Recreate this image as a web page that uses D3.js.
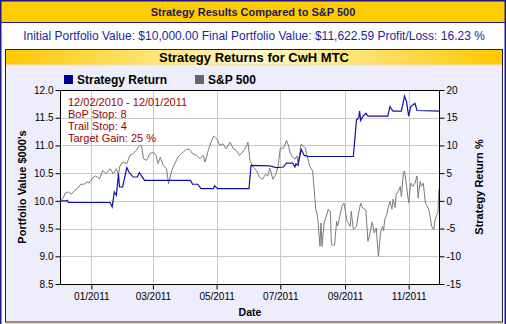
<!DOCTYPE html>
<html><head><meta charset="utf-8">
<script src="https://cdn.jsdelivr.net/npm/d3@7/dist/d3.min.js"></script>
<style>
body{margin:0;background:#fff;}
svg{display:block;font-family:"Liberation Sans",Arial,Helvetica,sans-serif;}
</style>
</head><body>
<svg id="c" width="506" height="324"></svg>
<script>
// ---------- data ----------
const headerTitle = "Strategy Results Compared to S&P 500";
const summaryText = "Initial Portfolio Value: $10,000.00 Final Portfolio Value: $11,622.59 Profit/Loss: 16.23 %";
const chartTitle = "Strategy Returns for CwH MTC";
const seriesNames = ["Strategy Return", "S&P 500"];
const notes = ["12/02/2010 - 12/01/2011", "BoP Stop: 8", "Trail Stop: 4", "Target Gain: 25 %"];
const xLabel = "Date";
const leftLabel = "Portfolio Value $000's";
const rightLabel = "Strategy Return %";
const xDomain = ["2010-12-02", "2011-12-01"];
const leftTicks = [8.5, 9.0, 9.5, 10.0, 10.5, 11.0, 11.5, 12.0];
const rightTicks = [-15, -10, -5, 0, 5, 10, 15, 20];

const strategyDates = ["2010-12-02","2010-12-08","2010-12-09","2010-12-10","2011-01-19","2011-01-21","2011-01-23","2011-01-25","2011-01-27","2011-01-28","2011-01-31","2011-02-04","2011-02-06","2011-02-10","2011-02-14","2011-02-16","2011-02-21","2011-04-06","2011-04-08","2011-04-13","2011-04-16","2011-04-28","2011-04-29","2011-05-02","2011-06-01","2011-06-03","2011-06-21","2011-06-27","2011-07-04","2011-07-07","2011-07-13","2011-07-15","2011-07-16","2011-07-18","2011-07-21","2011-07-24","2011-07-28","2011-09-09","2011-09-12","2011-09-14","2011-09-15","2011-09-16","2011-09-18","2011-09-21","2011-09-23","2011-10-12","2011-10-14","2011-10-17","2011-10-25","2011-10-28","2011-10-30","2011-11-01","2011-11-03","2011-11-05","2011-11-07","2011-11-09","2011-12-01"];
const strategyValues = [10.00,10.00,10.01,9.97,9.97,9.89,10.16,10.10,10.49,10.25,10.25,10.60,10.52,10.43,10.43,10.51,10.37,10.37,10.30,10.30,10.22,10.22,10.27,10.22,10.22,10.64,10.63,10.60,10.61,10.68,10.68,10.61,10.67,10.64,10.93,10.82,10.80,10.80,11.46,11.49,11.62,11.45,11.52,11.58,11.53,11.53,11.70,11.62,11.62,11.89,11.79,11.53,11.70,11.73,11.76,11.63,11.62];

const spDates = ["2010-12-02","2010-12-05","2010-12-07","2010-12-10","2010-12-13","2010-12-16","2010-12-19","2010-12-22","2010-12-25","2010-12-28","2010-12-30","2011-01-02","2011-01-05","2011-01-09","2011-01-12","2011-01-15","2011-01-19","2011-01-22","2011-01-25","2011-01-27","2011-01-28","2011-01-31","2011-02-04","2011-02-07","2011-02-10","2011-02-13","2011-02-16","2011-02-18","2011-02-20","2011-02-23","2011-02-26","2011-03-01","2011-03-04","2011-03-06","2011-03-08","2011-03-11","2011-03-14","2011-03-16","2011-03-19","2011-03-22","2011-03-25","2011-03-30","2011-04-02","2011-04-05","2011-04-08","2011-04-12","2011-04-15","2011-04-18","2011-04-20","2011-04-23","2011-04-24","2011-04-28","2011-04-30","2011-05-02","2011-05-04","2011-05-07","2011-05-10","2011-05-14","2011-05-17","2011-05-20","2011-05-23","2011-05-26","2011-05-30","2011-05-31","2011-06-02","2011-06-05","2011-06-08","2011-06-11","2011-06-14","2011-06-17","2011-06-19","2011-06-21","2011-06-24","2011-06-26","2011-06-27","2011-06-29","2011-07-01","2011-07-04","2011-07-05","2011-07-07","2011-07-09","2011-07-10","2011-07-12","2011-07-13","2011-07-15","2011-07-17","2011-07-18","2011-07-20","2011-07-21","2011-07-23","2011-07-25","2011-07-26","2011-07-28","2011-07-29","2011-08-01","2011-08-02","2011-08-03","2011-08-04","2011-08-05","2011-08-06","2011-08-08","2011-08-09","2011-08-10","2011-08-12","2011-08-14","2011-08-16","2011-08-18","2011-08-19","2011-08-21","2011-08-22","2011-08-24","2011-08-25","2011-08-27","2011-08-29","2011-08-31","2011-09-03","2011-09-04","2011-09-06","2011-09-07","2011-09-09","2011-09-10","2011-09-12","2011-09-14","2011-09-16","2011-09-18","2011-09-21","2011-09-23","2011-09-25","2011-09-27","2011-09-29","2011-10-01","2011-10-02","2011-10-03","2011-10-05","2011-10-07","2011-10-08","2011-10-09","2011-10-11","2011-10-12","2011-10-14","2011-10-16","2011-10-17","2011-10-19","2011-10-20","2011-10-22","2011-10-24","2011-10-25","2011-10-27","2011-10-28","2011-10-30","2011-11-01","2011-11-03","2011-11-05","2011-11-07","2011-11-09","2011-11-10","2011-11-12","2011-11-13","2011-11-15","2011-11-17","2011-11-18","2011-11-20","2011-11-21","2011-11-23","2011-11-25","2011-11-26","2011-11-28","2011-11-29","2011-11-30"];
const spValues = [0,0.5,1.4,1.6,1.2,1.9,2.3,3.0,3.0,3.4,3.2,4.1,4.5,4.0,5.5,4.9,5.8,4.9,5.8,4.6,6.1,7.0,6.7,8.2,8.5,9.1,10.0,10.0,7.6,7.3,8.5,8.8,8.2,6.7,7.9,6.4,5.8,3.1,5.5,6.7,7.9,8.8,9.3,9.3,8.5,8.2,7.6,8.2,7.0,9.1,9.7,11.7,11.4,11.0,10.0,10.3,9.4,10.6,9.4,9.1,8.2,8.8,10.0,10.6,7.3,6.1,5.5,4.3,3.9,4.8,4.5,5.9,3.9,4.5,5.0,6.3,9.5,9.5,9.9,10.9,9.9,9.0,8.1,7.9,7.5,8.1,6.8,9.0,10.2,9.9,9.5,8.6,7.2,6.3,5.4,3.2,0.8,-1.5,-2.2,-3.4,-8.2,-4.0,-8.2,-4.0,-2.8,-1.5,-2.0,-7.9,-8.0,-8.0,-3.7,-4.5,-2.8,-1.0,-0.4,-3.7,-4.0,-4.6,-1.9,-5.2,-5.0,-4.6,-2.2,-0.4,-1.3,-1.7,-7.3,-5.8,-3.8,-5.8,-4.9,-7.6,-10.0,-5.8,-4.6,-5.4,-3.4,-2.5,-1.5,-0.1,-1.5,0.3,-1.2,1.2,1.7,2.6,0.8,5.0,5.4,2.6,-0.4,3.2,2.6,3.2,4.5,0.5,3.5,2.6,3.2,-0.4,-0.7,-1.5,-2.2,-4.6,-5.2,-3.7,-2.5,-2.2,2.1];

// ---------- drawing ----------
const svg = d3.select("#c");
const parse = d3.utcParse("%Y-%m-%d");
const P = {l: 60, r: 440, t: 90, b: 284};

const defs = svg.append("defs");
const g1 = defs.append("linearGradient").attr("id", "hdr").attr("x1", "0").attr("x2", "1").attr("y1", "0").attr("y2", "0");
g1.append("stop").attr("offset", "0").attr("stop-color", "#FFC800");
g1.append("stop").attr("offset", "0.5").attr("stop-color", "#FFF7C8");
g1.append("stop").attr("offset", "1").attr("stop-color", "#FFC800");

// outer frame + header bar
svg.append("rect").attr("x", 0).attr("y", 0).attr("width", 506).attr("height", 324).attr("fill", "#fff");
svg.append("rect").attr("x", 1).attr("y", 1).attr("width", 504).attr("height", 21).attr("fill", "#FFCC00");
svg.append("line").attr("x1", 1).attr("x2", 505).attr("y1", 22.5).attr("y2", 22.5).attr("stroke", "#1a1a8c").attr("stroke-width", 1);
svg.append("rect").attr("x", 0.75).attr("y", 0.75).attr("width", 504.5).attr("height", 330).attr("fill", "none").attr("stroke", "#1a1a8c").attr("stroke-width", 1.5);
svg.append("text").attr("x", 253).attr("y", 15.5).attr("text-anchor", "middle")
  .attr("font-size", 11).attr("font-weight", "bold").attr("fill", "#1a1a5e").text(headerTitle);
svg.append("text").attr("x", 254).attr("y", 40.3).attr("text-anchor", "middle")
  .attr("font-size", 12).attr("fill", "#1e1ea0").text(summaryText);

// chart panel
svg.append("rect").attr("x", 5.5).attr("y", 49.5).attr("width", 497).attr("height", 272.5)
  .attr("fill", "#EDEDFC").attr("stroke", "#202040").attr("stroke-width", 1);
svg.append("rect").attr("x", 6).attr("y", 50).attr("width", 496).attr("height", 14.5).attr("fill", "url(#hdr)");
svg.append("line").attr("x1", 6).attr("x2", 502).attr("y1", 64.75).attr("y2", 64.75).attr("stroke", "#F2D860").attr("stroke-width", 0.6);
svg.append("line").attr("x1", 5).attr("x2", 503).attr("y1", 323.5).attr("y2", 323.5).attr("stroke", "#F5E27A").attr("stroke-width", 1);
svg.append("text").attr("x", 254).attr("y", 62.3).attr("text-anchor", "middle")
  .attr("font-size", 13).attr("font-weight", "bold").attr("fill", "#000").text(chartTitle);

// scales
const x = d3.scaleUtc().domain(xDomain.map(parse)).range([P.l, P.r]);
const yL = d3.scaleLinear().domain([leftTicks[0], leftTicks[leftTicks.length - 1]]).range([P.b, P.t]);
const yR = d3.scaleLinear().domain([rightTicks[0], rightTicks[rightTicks.length - 1]]).range([P.b, P.t]);
const monthTicks = d3.utcMonth.every(2).range(x.domain()[0], x.domain()[1]);

// plot background
svg.append("rect").attr("x", P.l).attr("y", P.t).attr("width", P.r - P.l).attr("height", P.b - P.t).attr("fill", "#fff");

// gridlines
const grid = svg.append("g").attr("stroke", "#C8C8C8").attr("stroke-width", 1);
grid.selectAll("line.h").data(leftTicks).join("line").attr("class", "h")
  .attr("x1", P.l).attr("x2", P.r).attr("y1", d => Math.round(yL(d)) + 0.5).attr("y2", d => Math.round(yL(d)) + 0.5);
grid.selectAll("line.v").data(monthTicks).join("line").attr("class", "v")
  .attr("y1", P.t).attr("y2", P.b).attr("x1", d => Math.round(x(d)) + 0.5).attr("x2", d => Math.round(x(d)) + 0.5);

// lines
const spLine = d3.line().x(d => x(d.date)).y(d => yR(d.v));
const spData = spDates.map((d, i) => ({date: parse(d), v: spValues[i]}));
svg.append("path").datum(spData).attr("d", spLine).attr("fill", "none").attr("stroke", "#7a7a7a").attr("stroke-width", 1);

const stLine = d3.line().x(d => x(d.date)).y(d => yL(d.v));
const stData = strategyDates.map((d, i) => ({date: parse(d), v: strategyValues[i]}));
svg.append("path").datum(stData).attr("d", stLine).attr("fill", "none").attr("stroke", "#1010a0").attr("stroke-width", 1.2);

// plot border
svg.append("rect").attr("x", P.l + 0.5).attr("y", P.t + 0.5).attr("width", P.r - P.l - 1).attr("height", P.b - P.t)
  .attr("fill", "none").attr("stroke", "#000").attr("stroke-width", 1);

// axes
function styleAxis(g) {
  g.select(".domain").remove();
  g.selectAll(".tick line").attr("stroke", "#000");
  g.selectAll(".tick text").attr("fill", "#000").attr("font-size", 10).attr("font-family", "Liberation Sans, Arial, sans-serif");
}
svg.append("g").attr("transform", `translate(${P.l + 0.5},0)`)
  .call(d3.axisLeft(yL).tickValues(leftTicks).tickFormat(d3.format(".1f")).tickSize(5).tickPadding(2))
  .call(styleAxis);
svg.append("g").attr("transform", `translate(${P.r - 0.5},0)`)
  .call(d3.axisRight(yR).tickValues(rightTicks).tickFormat(d => String(d)).tickSize(5).tickPadding(2))
  .call(styleAxis);
svg.append("g").attr("transform", `translate(0,${P.b + 0.5})`)
  .call(d3.axisBottom(x).tickValues(monthTicks).tickFormat(d3.utcFormat("%m/%Y")).tickSize(5).tickPadding(3))
  .call(styleAxis);

// axis titles
svg.append("text").attr("x", (P.l + P.r) / 2).attr("y", 315.5).attr("text-anchor", "middle")
  .attr("font-size", 10.5).attr("font-weight", "bold").text(xLabel);
svg.append("text").attr("transform", `translate(26,${(P.t + P.b) / 2}) rotate(-90)`).attr("text-anchor", "middle")
  .attr("font-size", 11).attr("font-weight", "bold").text(leftLabel);
svg.append("text").attr("transform", `translate(483,${(P.t + P.b) / 2}) rotate(-90)`).attr("text-anchor", "middle")
  .attr("font-size", 11).attr("font-weight", "bold").text(rightLabel);

// legend
const legColors = ["#000099", "#666666"];
const legX = [64, 195];
const leg = svg.append("g");
seriesNames.forEach((n, i) => {
  leg.append("rect").attr("x", legX[i]).attr("y", 75).attr("width", 9).attr("height", 9).attr("fill", legColors[i]);
  leg.append("text").attr("x", legX[i] + 13).attr("y", 83.8).attr("font-size", 12).attr("font-weight", "bold").attr("fill", "#000").text(n);
});

// notes
svg.append("g").selectAll("text").data(notes).join("text")
  .attr("x", 68).attr("y", (d, i) => 105.5 + i * 12).attr("font-size", 11).attr("fill", "#A00000").text(d => d);
</script>
</body></html>
